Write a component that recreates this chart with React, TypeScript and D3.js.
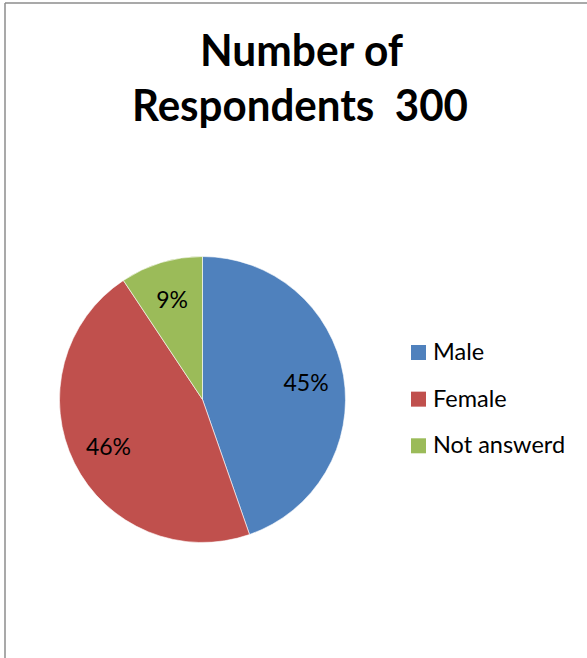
import React from "react";
import * as d3 from "d3";

const categories = ["Male", "Female", "Not answerd"];
const counts = [134, 138, 28];
const percentLabels = ["45%", "46%", "9%"];
const colors = ["#4F81BD", "#C0504D", "#9BBB59"];
const titleLines = ["Number of", "Respondents  300"];

const W = 587;
const H = 658;
const cx = 202.5;
const cy = 399.5;
const R = 143;
const labelR = 105;
const FONT = "Lato, 'Open Sans', 'Noto Sans', sans-serif";

export default function App() {
  const pie = d3.pie<number>().sort(null).value((d) => d);
  const arcs = pie(counts);
  const arcGen = d3.arc<d3.PieArcDatum<number>>().innerRadius(0).outerRadius(R);
  const labelArc = d3.arc<d3.PieArcDatum<number>>().innerRadius(labelR).outerRadius(labelR);

  const legendY = d3.scalePoint<string>().domain(categories).range([352.5, 445.8]);

  return (
    <svg
      width={W}
      height={H}
      style={{ position: "absolute", left: 0, top: 0, background: "#fff" }}
      fontFamily={FONT}
    >
      <rect x={0} y={0} width={W} height={H} fill="#fff" />
      <line x1={5} y1={3} x2={W} y2={3} stroke="#8c8c8c" strokeWidth={1.5} />
      <line x1={5} y1={3} x2={5} y2={H} stroke="#8c8c8c" strokeWidth={1.5} />

      <g fontWeight="bold" fill="#000" textAnchor="middle">
        <text x={301.5} y={66} fontSize={43} textLength={203} lengthAdjust="spacingAndGlyphs">
          {titleLines[0]}
        </text>
        <text
          x={300}
          y={121}
          fontSize={43}
          textLength={336}
          lengthAdjust="spacingAndGlyphs"
          xmlSpace="preserve"
          style={{ whiteSpace: "pre" }}
        >
          {titleLines[1]}
        </text>
      </g>

      <g transform={`translate(${cx},${cy})`}>
        {arcs.map((a, i) => (
          <path key={categories[i]} d={arcGen(a) || ""} fill={colors[i]} stroke="#fff" strokeWidth={0.6} />
        ))}
        {arcs.map((a, i) => {
          const [x, y] = labelArc.centroid(a);
          return (
            <text
              key={"l" + i}
              x={x}
              y={y}
              textAnchor="middle"
              dominantBaseline="central"
              fontSize={23}
              fill="#000"
            >
              {percentLabels[i]}
            </text>
          );
        })}
      </g>

      <g>
        {categories.map((c, i) => {
          const y = legendY(c) as number;
          return (
            <g key={c}>
              <rect x={411} y={y - 7.5} width={15} height={15} fill={colors[i]} />
              <text x={433} y={y + 7.5} fontSize={23.5} fill="#000">
                {c}
              </text>
            </g>
          );
        })}
      </g>
    </svg>
  );
}
